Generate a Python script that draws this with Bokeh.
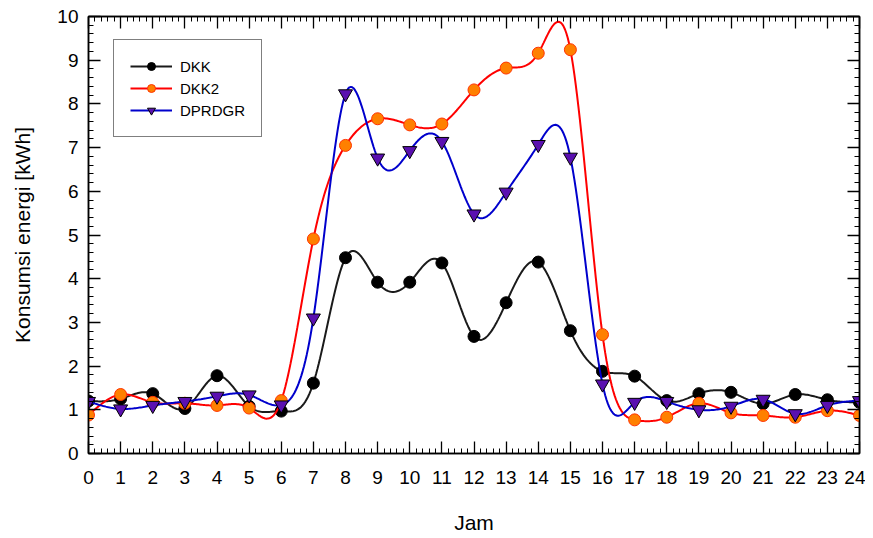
import numpy as np
from bokeh.plotting import figure
from bokeh.models import (LinearAxis, Range1d, Legend, LegendItem, CustomJSTickFormatter,
                          SingleIntervalTicker)
from bokeh.embed import file_html
from bokeh.resources import INLINE

hours = list(range(25))
dkk = [1.20, 1.25, 1.37, 1.03, 1.78, 1.08, 0.97, 1.61, 4.48, 3.92, 3.92, 4.36, 2.68,
       3.45, 4.38, 2.81, 1.88, 1.77, 1.21, 1.37, 1.40, 1.14, 1.35, 1.23, 1.17]
dkk2 = [0.88, 1.35, 1.17, 1.15, 1.10, 1.04, 1.21, 4.91, 7.05, 7.66, 7.52, 7.54, 8.32,
        8.82, 9.16, 9.24, 2.72, 0.77, 0.83, 1.15, 0.93, 0.87, 0.83, 0.98, 0.87]
dprdgr = [1.19, 1.02, 1.10, 1.19, 1.31, 1.34, 1.11, 3.10, 8.23, 6.76, 6.93, 7.14, 5.48,
          5.98, 7.07, 6.78, 1.59, 1.17, 1.19, 1.00, 1.08, 1.24, 0.91, 1.10, 1.21]


def natural_spline(x, y, n=24):
    x = np.asarray(x, float)
    y = np.asarray(y, float)
    k = len(x)
    h = np.diff(x)
    A = np.zeros((k, k))
    b = np.zeros(k)
    A[0, 0] = 1
    A[-1, -1] = 1
    for i in range(1, k - 1):
        A[i, i - 1] = h[i - 1]
        A[i, i] = 2 * (h[i - 1] + h[i])
        A[i, i + 1] = h[i]
        b[i] = 3 * ((y[i + 1] - y[i]) / h[i] - (y[i] - y[i - 1]) / h[i - 1])
    c = np.linalg.solve(A, b)
    xs, ys = [], []
    for i in range(k - 1):
        bb = (y[i + 1] - y[i]) / h[i] - h[i] * (2 * c[i] + c[i + 1]) / 3
        d = (c[i + 1] - c[i]) / (3 * h[i])
        t = np.linspace(0, h[i], n, endpoint=(i == k - 2))
        xs.extend(x[i] + t)
        ys.extend(y[i] + bb * t + c[i] * t ** 2 + d * t ** 3)
    return xs, ys


p = figure(frame_width=771, frame_height=437, output_backend="svg", toolbar_location=None,
           x_range=Range1d(0, 24), y_range=Range1d(0, 10),
           min_border_left=88, min_border_top=16, min_border_right=6, min_border_bottom=77,
           background_fill_color="white", border_fill_color="white")
p.grid.visible = False
p.outline_line_color = "black"
p.outline_line_width = 1.5

tick_font = "Liberation Sans"


def style_axis(ax, labels=True):
    ax.axis_line_color = "black"
    ax.axis_line_width = 1.5
    ax.major_tick_in = 12
    ax.major_tick_out = 0
    ax.minor_tick_in = 5
    ax.minor_tick_out = 0
    ax.major_tick_line_color = "black"
    ax.minor_tick_line_color = "black"
    ax.major_tick_line_width = 1.3
    ax.minor_tick_line_width = 1
    ax.major_label_text_font = tick_font
    ax.major_label_text_font_size = "19px"
    ax.major_label_text_color = "black"
    if not labels:
        ax.formatter = CustomJSTickFormatter(code="return ''")
        ax.major_label_standoff = 0


p.xaxis.ticker = SingleIntervalTicker(interval=1, num_minor_ticks=5)
p.yaxis.ticker = SingleIntervalTicker(interval=1, num_minor_ticks=5)
for ax in p.xaxis + p.yaxis:
    style_axis(ax)
p.xaxis.major_label_standoff = 17
p.yaxis.major_label_standoff = 10
p.xaxis.axis_label = "Jam"
p.yaxis.axis_label = "Konsumsi energi [kWh]"
for ax in p.xaxis + p.yaxis:
    ax.axis_label_text_font = "Liberation Sans"
    ax.axis_label_text_font_size = "21px"
    ax.axis_label_text_font_style = "normal"
    ax.axis_label_text_color = "black"
p.xaxis.axis_label_standoff = 24
p.yaxis.axis_label_standoff = 20

top = LinearAxis(ticker=SingleIntervalTicker(interval=1, num_minor_ticks=5))
right = LinearAxis(ticker=SingleIntervalTicker(interval=1, num_minor_ticks=5))
style_axis(top, labels=False)
style_axis(right, labels=False)
p.add_layout(top, "above")
p.add_layout(right, "right")

series = [
    ("DKK", dkk, "#1a1a1a", "circle", "black", "black", 12),
    ("DKK2", dkk2, "#ff0000", "circle", "#ff8000", "#ff3300", 12),
    ("DPRDGR", dprdgr, "#0000cc", "inverted_triangle", "#5a10b0", "black", 14),
]
items = []
for name, vals, lc, marker, fill, mline, size in series:
    sx, sy = natural_spline(hours, vals)
    l = p.line(sx, sy, line_color=lc, line_width=2)
    s = p.scatter(hours, vals, marker=marker, size=size, fill_color=fill,
                  line_color=mline, line_width=1)
    items.append(LegendItem(label=name, renderers=[l, s]))

legend = Legend(items=items, location=(25, 316))
legend.border_line_color = "black"
legend.border_line_width = 1.5
legend.label_text_font = "Liberation Sans"
legend.label_text_font_size = "15px"
legend.label_text_color = "black"
legend.padding = 16
legend.spacing = 2
legend.label_height = 20
legend.glyph_height = 20
legend.glyph_width = 42
legend.label_standoff = 8
legend.background_fill_color = "white"
legend.background_fill_alpha = 1
p.add_layout(legend, "center")

open("out.html", "w").write(file_html(p, INLINE))
